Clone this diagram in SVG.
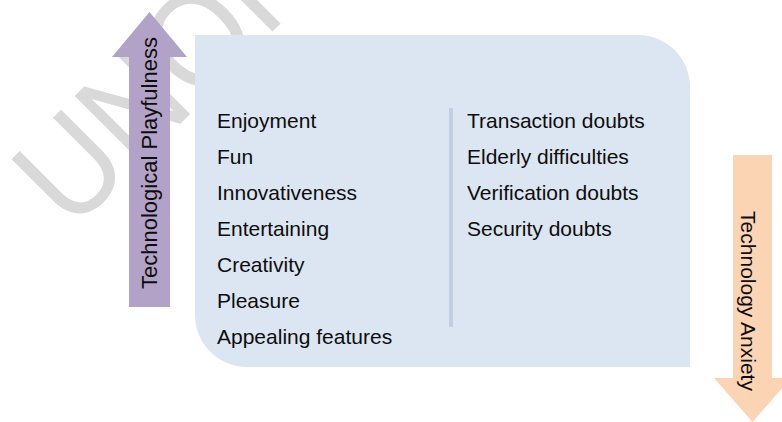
<svg xmlns="http://www.w3.org/2000/svg" width="782" height="422" viewBox="0 0 782 422">
  <style>
    .item { font-family: "Liberation Sans", Arial, sans-serif; font-size: 21px; fill: #0d0d0d; }
    .axis { font-family: "Liberation Sans", Arial, sans-serif; fill: #0d0d0d; }
    .mark { font-family: "Liberation Sans", Arial, sans-serif; font-size: 137px; fill: #d9d9d9; }
  </style>
  <rect width="782" height="422" fill="#ffffff"/>

  <!-- background watermark -->
  <g id="watermark">
    <text class="mark" transform="translate(71.4,232.6) rotate(-45) scale(0.9,1)">UNOFF</text>
  </g>

  <!-- factor panel -->
  <g id="factors">
    <path d="M195,35 H638 A52,52 0 0 1 690,87 V367 H247 A52,52 0 0 1 195,315 Z" fill="#dce6f2"/>
    <rect x="449" y="108" width="4" height="219" fill="#c3cee2"/>
    <g id="playfulness-items">
      <text class="item" x="217" y="128">Enjoyment</text>
      <text class="item" x="217" y="164">Fun</text>
      <text class="item" x="217" y="200">Innovativeness</text>
      <text class="item" x="217" y="236">Entertaining</text>
      <text class="item" x="217" y="272">Creativity</text>
      <text class="item" x="217" y="308">Pleasure</text>
      <text class="item" x="217" y="344">Appealing features</text>
    </g>
    <g id="anxiety-items">
      <text class="item" x="467" y="128">Transaction doubts</text>
      <text class="item" x="467" y="164">Elderly difficulties</text>
      <text class="item" x="467" y="200">Verification doubts</text>
      <text class="item" x="467" y="236">Security doubts</text>
    </g>
  </g>

  <!-- direction arrows -->
  <g id="connectors">
    <g id="playfulness-arrow">
      <polygon points="149.5,12 187,57 170,57 170,307 129,307 129,57 112,57" fill="#b3a2c7"/>
      <text class="axis" font-size="22" text-anchor="middle" transform="translate(157,163) rotate(-90)">Technological Playfulness</text>
    </g>
    <g id="anxiety-arrow">
      <polygon points="733,155 772,155 772,378 791,378 752.5,422 714,378 733,378" fill="#fbd4b4"/>
      <text class="axis" font-size="21" text-anchor="middle" transform="translate(741,301) rotate(90)">Technology Anxiety</text>
    </g>
  </g>
</svg>
